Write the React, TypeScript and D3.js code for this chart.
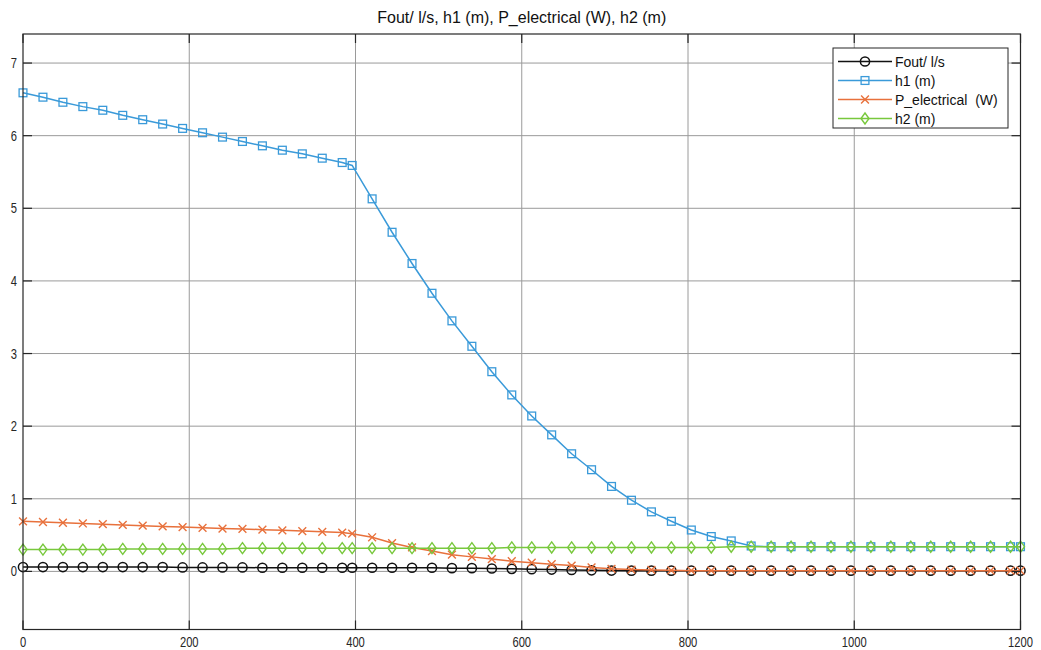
import React, { useEffect, useRef } from "react";
import * as d3 from "d3";

// sample times (s)
const time = [0, 24, 48, 72, 96, 120, 144, 168, 192, 216, 240, 264, 288, 312, 336, 360, 384, 396,
  420, 444, 468, 492, 516, 540, 564, 588, 612, 636, 660, 684, 708, 732, 756, 780, 804, 828, 852, 876,
  900, 924, 948, 972, 996, 1020, 1044, 1068, 1092, 1116, 1140, 1164, 1188, 1200];

const fout = [0.06, 0.06, 0.06, 0.06, 0.06, 0.06, 0.06, 0.06, 0.055, 0.055, 0.055, 0.055, 0.05, 0.05, 0.05, 0.05, 0.05, 0.05,
  0.05, 0.05, 0.05, 0.05, 0.045, 0.045, 0.04, 0.035, 0.03, 0.025, 0.02, 0.015, 0.012, 0.01, 0.01, 0.01, 0.01, 0.01, 0.01, 0.01,
  0.01, 0.01, 0.01, 0.01, 0.01, 0.01, 0.01, 0.01, 0.01, 0.01, 0.01, 0.01, 0.01, 0.01];

const h1 = [6.59, 6.53, 6.46, 6.40, 6.35, 6.28, 6.22, 6.16, 6.10, 6.04, 5.98, 5.92, 5.86, 5.80, 5.75, 5.69, 5.63, 5.59,
  5.13, 4.67, 4.24, 3.83, 3.45, 3.10, 2.75, 2.43, 2.14, 1.88, 1.62, 1.40, 1.17, 0.98, 0.82, 0.69, 0.57, 0.48, 0.42, 0.35,
  0.34, 0.34, 0.34, 0.34, 0.34, 0.34, 0.34, 0.34, 0.34, 0.34, 0.34, 0.34, 0.34, 0.34];

const pElectrical = [0.69, 0.68, 0.67, 0.66, 0.65, 0.64, 0.63, 0.62, 0.61, 0.60, 0.59, 0.585, 0.575, 0.565, 0.555, 0.545, 0.535, 0.52,
  0.47, 0.39, 0.33, 0.28, 0.23, 0.20, 0.17, 0.14, 0.12, 0.10, 0.08, 0.055, 0.035, 0.025, 0.02, 0.015, 0.01, 0.01, 0.01, 0.01,
  0.01, 0.01, 0.01, 0.01, 0.01, 0.01, 0.01, 0.01, 0.01, 0.01, 0.01, 0.01, 0.01, 0.01];

const h2 = [0.30, 0.30, 0.30, 0.30, 0.30, 0.31, 0.31, 0.31, 0.31, 0.31, 0.31, 0.32, 0.32, 0.32, 0.32, 0.32, 0.32, 0.32,
  0.32, 0.32, 0.32, 0.32, 0.32, 0.32, 0.32, 0.33, 0.33, 0.33, 0.33, 0.33, 0.33, 0.33, 0.33, 0.33, 0.33, 0.33, 0.34, 0.34,
  0.34, 0.34, 0.34, 0.34, 0.34, 0.34, 0.34, 0.34, 0.34, 0.34, 0.34, 0.34, 0.34, 0.34];

const xTicks = [0, 200, 400, 600, 800, 1000, 1200];
const yTicks = [0, 1, 2, 3, 4, 5, 6, 7];

const series = [
  { name: "Fout/ l/s", values: fout, color: "#111111", marker: "circle" },
  { name: "h1 (m)", values: h1, color: "#3a9ad9", marker: "square" },
  { name: "P_electrical  (W)", values: pElectrical, color: "#e8713c", marker: "cross" },
  { name: "h2 (m)", values: h2, color: "#78c83c", marker: "diamond" },
];

const W = 1041, H = 650;
const FONT = "'Liberation Sans', Arial, sans-serif";

function drawMarker(g, type, x, y, color) {
  if (type === "circle") {
    g.append("circle").attr("cx", x).attr("cy", y).attr("r", 4.6)
      .attr("fill", "none").attr("stroke", color).attr("stroke-width", 1.5);
  } else if (type === "square") {
    g.append("rect").attr("x", x - 3.9).attr("y", y - 3.9).attr("width", 7.8).attr("height", 7.8)
      .attr("fill", "none").attr("stroke", color).attr("stroke-width", 1.3);
  } else if (type === "cross") {
    const s = 3.9;
    g.append("path").attr("d", `M${x - s},${y - s}L${x + s},${y + s}M${x - s},${y + s}L${x + s},${y - s}`)
      .attr("stroke", color).attr("stroke-width", 1.4).attr("fill", "none");
  } else {
    g.append("path").attr("d", `M${x},${y - 5.5}L${x + 4},${y}L${x},${y + 5.5}L${x - 4},${y}Z`)
      .attr("fill", "none").attr("stroke", color).attr("stroke-width", 1.4);
  }
}

export default function App() {
  const ref = useRef(null);

  useEffect(() => {
    const svg = d3.select(ref.current);
    svg.selectAll("*").remove();

    const left = 23, right = 1020.5, top = 34, bottom = 629.5;
    const x = d3.scaleLinear().domain([0, 1200]).range([left, right]);
    const y = d3.scaleLinear().domain([-0.8, 7.4]).range([bottom, top]);

    svg.append("rect").attr("width", W).attr("height", H).attr("fill", "#ffffff");

    // grid
    const grid = svg.append("g").attr("stroke", "#9a9a9a").attr("stroke-width", 1);
    xTicks.slice(1, -1).forEach(t => {
      grid.append("line").attr("x1", x(t)).attr("x2", x(t)).attr("y1", top).attr("y2", bottom);
    });
    yTicks.forEach(t => {
      grid.append("line").attr("x1", left).attr("x2", right).attr("y1", y(t)).attr("y2", y(t));
    });

    // lines and markers
    series.forEach(s => {
      const pts = time.map((t, i) => [t, s.values[i]]);
      const line = d3.line().x(d => x(d[0])).y(d => y(d[1]));
      svg.append("path").datum(pts).attr("d", line)
        .attr("fill", "none").attr("stroke", s.color).attr("stroke-width", 1.5);
      const mg = svg.append("g");
      pts.forEach(d => drawMarker(mg, s.marker, x(d[0]), y(d[1]), s.color));
    });

    // axes box and inward ticks
    const ax = svg.append("g").attr("stroke", "#262626").attr("stroke-width", 1.2).attr("fill", "none");
    ax.append("rect").attr("x", left).attr("y", top).attr("width", right - left).attr("height", bottom - top);
    const tl = 9;
    xTicks.forEach(t => {
      ax.append("line").attr("x1", x(t)).attr("x2", x(t)).attr("y1", bottom).attr("y2", bottom - tl);
      ax.append("line").attr("x1", x(t)).attr("x2", x(t)).attr("y1", top).attr("y2", top + tl);
    });
    yTicks.forEach(t => {
      ax.append("line").attr("x1", left).attr("x2", left + tl).attr("y1", y(t)).attr("y2", y(t));
      ax.append("line").attr("x1", right).attr("x2", right - tl).attr("y1", y(t)).attr("y2", y(t));
    });

    // tick labels: tall, narrow digits as in the source image
    const labels = svg.append("g").attr("font-family", FONT).attr("font-size", 14).attr("fill", "#262626");
    xTicks.forEach(t => {
      labels.append("text").attr("transform", `translate(${x(t)},${bottom + 17}) scale(0.8,1)`)
        .attr("text-anchor", "middle").text(d3.format("d")(t));
    });
    yTicks.forEach(t => {
      labels.append("text").attr("transform", `translate(${left - 6},${y(t) + 5}) scale(0.8,1)`)
        .attr("text-anchor", "end").text(t);
    });

    svg.append("text").attr("x", (left + right) / 2).attr("y", 23).attr("text-anchor", "middle")
      .attr("font-family", FONT).attr("font-size", 16).attr("fill", "#111")
      .text("Fout/ l/s, h1 (m), P_electrical (W), h2 (m)");

    // legend
    const lg = svg.append("g");
    const lx = 833, ly = 48, lw = 175, rowH = 19;
    lg.append("rect").attr("x", lx).attr("y", ly).attr("width", lw).attr("height", rowH * series.length + 4)
      .attr("fill", "#fff").attr("stroke", "#262626").attr("stroke-width", 1);
    series.forEach((s, i) => {
      const cy = ly + 13.5 + i * rowH;
      lg.append("line").attr("x1", lx + 5).attr("x2", lx + 59).attr("y1", cy).attr("y2", cy)
        .attr("stroke", s.color).attr("stroke-width", 1.5);
      drawMarker(lg, s.marker, lx + 32, cy, s.color);
      lg.append("text").attr("x", lx + 62).attr("y", cy + 5).attr("font-family", FONT)
        .attr("font-size", 14).attr("fill", "#111").style("white-space", "pre").text(s.name);
    });
  }, []);

  return (
    <div style={{ position: "absolute", left: 0, top: 0 }}>
      <svg ref={ref} width={W} height={H} />
    </div>
  );
}
